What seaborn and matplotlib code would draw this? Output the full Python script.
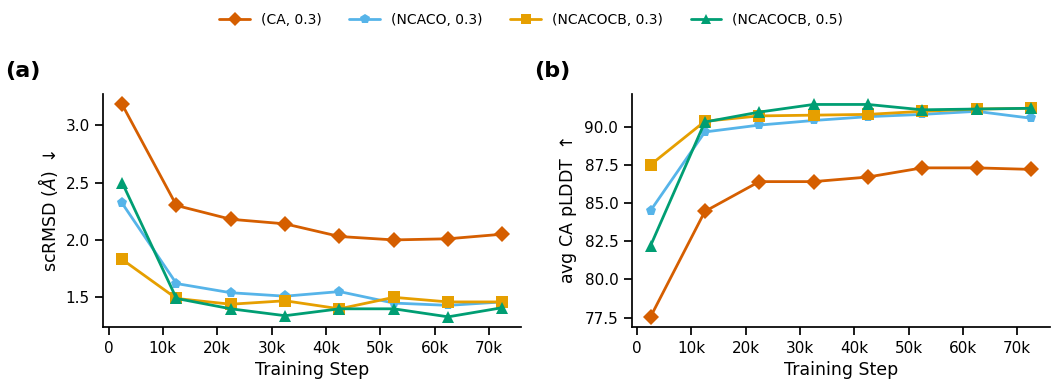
import numpy as np
import pandas as pd
import matplotlib.pyplot as plt
from matplotlib.ticker import FuncFormatter
import seaborn as sns

sns.set_theme(style="ticks")
plt.rcParams['font.family'] = ['DejaVu Sans']
plt.rcParams['text.color'] = 'black'
plt.rcParams['axes.labelcolor'] = 'black'
plt.rcParams['xtick.color'] = 'black'
plt.rcParams['ytick.color'] = 'black'
plt.rcParams['axes.edgecolor'] = 'black'

steps = [2500, 12500, 22500, 32500, 42500, 52500, 62500, 72500]
series = ["(CA, 0.3)", "(NCACO, 0.3)", "(NCACOCB, 0.3)", "(NCACOCB, 0.5)"]

# scRMSD
rmsd_ca = [3.18, 2.30, 2.18, 2.14, 2.03, 2.00, 2.01, 2.05]
rmsd_ncaco = [2.32, 1.62, 1.54, 1.51, 1.55, 1.45, 1.43, 1.46]
rmsd_cb3 = [1.83, 1.49, 1.44, 1.47, 1.40, 1.50, 1.46, 1.46]
rmsd_cb5 = [2.50, 1.49, 1.40, 1.34, 1.40, 1.40, 1.33, 1.41]

# pLDDT
plddt_ca = [77.55, 84.45, 86.4, 86.4, 86.7, 87.3, 87.3, 87.2]
plddt_ncaco = [84.5, 89.65, 90.1, 90.4, 90.65, 90.8, 91.0, 90.55]
plddt_cb3 = [87.5, 90.35, 90.7, 90.75, 90.8, 91.0, 91.15, 91.2]
plddt_cb5 = [82.2, 90.3, 90.95, 91.45, 91.45, 91.1, 91.15, 91.2]

colors = ["#D55E00", "#56B4E9", "#E69F00", "#009E73"]
markers = ["D", "p", "s", "^"]

rows = []
for name, r, p in zip(series, [rmsd_ca, rmsd_ncaco, rmsd_cb3, rmsd_cb5],
                      [plddt_ca, plddt_ncaco, plddt_cb3, plddt_cb5]):
    for s, rv, pv in zip(steps, r, p):
        rows.append({"step": s, "model": name, "rmsd": rv, "plddt": pv})
df = pd.DataFrame(rows)

fig, axes = plt.subplots(1, 2, figsize=(10.52, 3.83), dpi=100)
pal = dict(zip(series, colors))
mk = dict(zip(series, markers))

for ax, col, lab in [(axes[0], "rmsd", r"scRMSD ($\AA$) $\downarrow$"),
                     (axes[1], "plddt", r"avg CA pLDDT $\uparrow$")]:
    sns.lineplot(data=df, x="step", y=col, hue="model", style="model",
                 palette=pal, markers=mk, dashes=False, markersize=8,
                 linewidth=2, markeredgewidth=0, ax=ax, legend=(ax is axes[0]))
    ax.set_xlabel("Training Step", fontsize=12.5)
    ax.set_ylabel(lab, fontsize=12.5)
    ax.tick_params(labelsize=11)
    ax.xaxis.set_major_formatter(FuncFormatter(lambda v, p: "0" if v == 0 else f"{int(v/1000)}k"))
    ax.set_xticks(range(0, 80000, 10000))
    sns.despine(ax=ax)

axes[1].set_yticks([77.5, 80.0, 82.5, 85.0, 87.5, 90.0])
axes[1].yaxis.set_major_formatter(FuncFormatter(lambda v, p: f"{v:.1f}"))

handles, labels = axes[0].get_legend_handles_labels()
for h in handles:
    h.set_markersize(7)
axes[0].get_legend().remove()
fig.legend(handles, labels, loc="upper center", ncol=4, frameon=False,
           fontsize=10, bbox_to_anchor=(0.505, 1.0), handlelength=2.2,
           columnspacing=2.0)

fig.text(0.005, 0.8, "(a)", fontsize=16, fontweight="bold")
fig.text(0.508, 0.8, "(b)", fontsize=16, fontweight="bold")

fig.subplots_adjust(left=0.098, right=0.998, top=0.755, bottom=0.145, wspace=0.263)
fig.savefig("out.png", dpi=100)
